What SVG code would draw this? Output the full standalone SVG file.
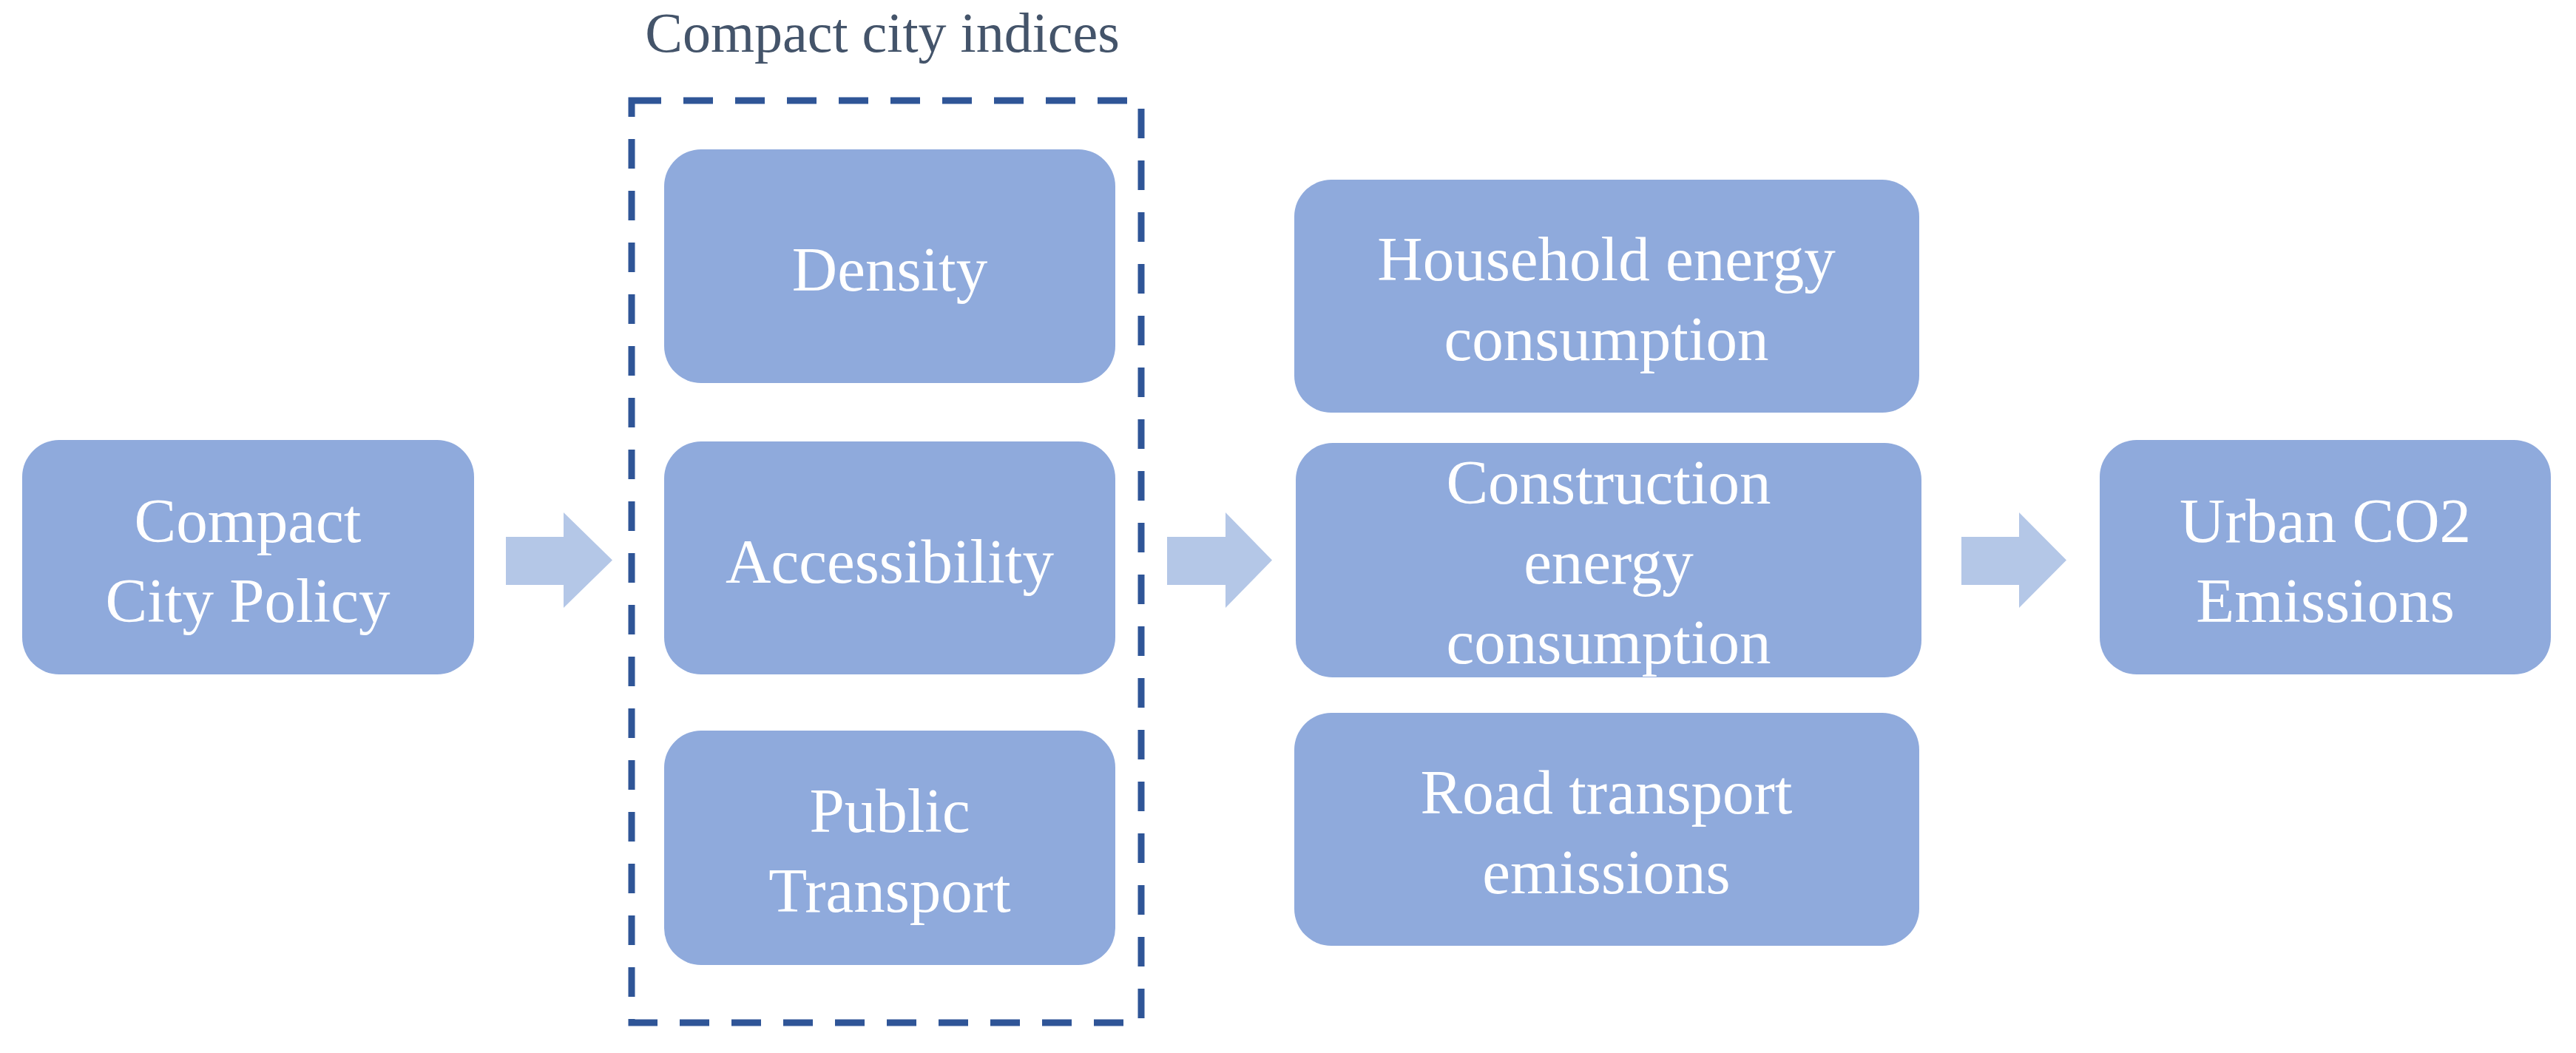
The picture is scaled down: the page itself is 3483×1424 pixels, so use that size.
<svg xmlns="http://www.w3.org/2000/svg" width="3483" height="1424" viewBox="0 0 3483 1424">
<style>
.box{fill:#8faadc;}
.lbl{font-family:"Liberation Serif","DejaVu Serif",serif;font-size:85px;fill:#ffffff;text-anchor:middle;}
.title{font-family:"Liberation Serif","DejaVu Serif",serif;font-size:76px;fill:#44546a;text-anchor:middle;}
.arrow{fill:#b4c7e7;}
.group{fill:none;stroke:#2f5597;stroke-width:9;stroke-dasharray:40 30;}
</style>
<rect width="3483" height="1424" fill="#ffffff"/>
<g id="indices-group">
<rect class="group" x="854" y="136" width="689" height="1247"/>
<text class="title" x="1193" y="70">Compact city indices</text>
</g>
<g id="policy">
<rect class="box" x="30" y="595" width="611" height="317" rx="50" ry="50"/>
<text class="lbl" x="335" y="733">Compact</text>
<text class="lbl" x="335" y="841">City Policy</text>
</g>
<g id="density">
<rect class="box" x="898" y="202" width="610" height="316" rx="50" ry="50"/>
<text class="lbl" x="1203" y="393">Density</text>
</g>
<g id="accessibility">
<rect class="box" x="898" y="597" width="610" height="315" rx="50" ry="50"/>
<text class="lbl" x="1203" y="788">Accessibility</text>
</g>
<g id="public-transport">
<rect class="box" x="898" y="988" width="610" height="317" rx="50" ry="50"/>
<text class="lbl" x="1203" y="1125">Public</text>
<text class="lbl" x="1203" y="1233">Transport</text>
</g>
<g id="household">
<rect class="box" x="1750" y="243" width="845" height="315" rx="50" ry="50"/>
<text class="lbl" x="2172" y="379">Household energy</text>
<text class="lbl" x="2172" y="487">consumption</text>
</g>
<g id="construction">
<rect class="box" x="1752" y="599" width="846" height="317" rx="50" ry="50"/>
<text class="lbl" x="2175" y="681">Construction</text>
<text class="lbl" x="2175" y="789">energy</text>
<text class="lbl" x="2175" y="897">consumption</text>
</g>
<g id="road">
<rect class="box" x="1750" y="964" width="845" height="315" rx="50" ry="50"/>
<text class="lbl" x="2172" y="1100">Road transport</text>
<text class="lbl" x="2172" y="1208">emissions</text>
</g>
<g id="urban-co2">
<rect class="box" x="2839" y="595" width="610" height="317" rx="50" ry="50"/>
<text class="lbl" x="3144" y="733">Urban CO2</text>
<text class="lbl" x="3144" y="841">Emissions</text>
</g>
<g id="connectors">
<polygon class="arrow" points="684,726 762,726 762,693 828,757.5 762,822 762,791 684,791"/>
<polygon class="arrow" points="1578,726 1657,726 1657,693 1720,757.5 1657,822 1657,791 1578,791"/>
<polygon class="arrow" points="2652,726 2730,726 2730,693 2794,757.5 2730,822 2730,791 2652,791"/>
</g>
</svg>
